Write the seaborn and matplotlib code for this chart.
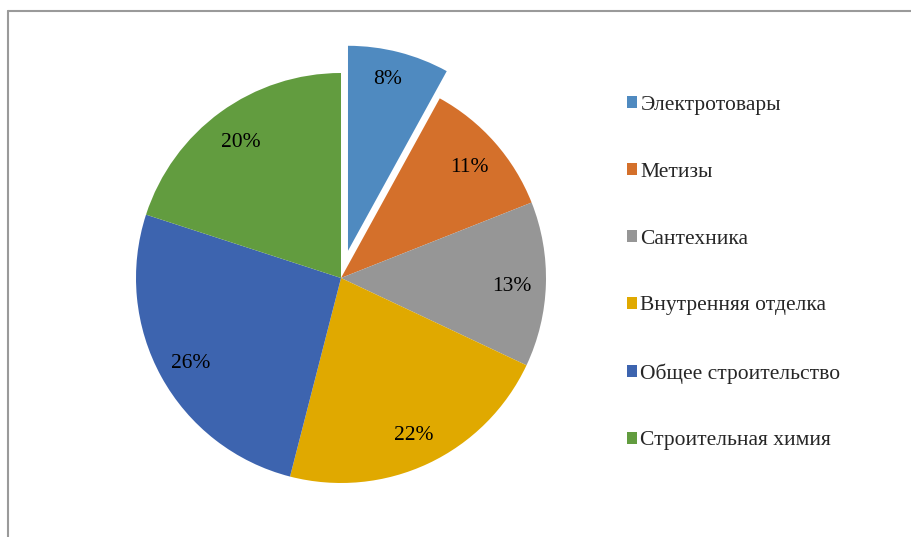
import matplotlib
matplotlib.use("Agg")
import matplotlib.pyplot as plt
import seaborn as sns
from matplotlib.lines import Line2D
from matplotlib.transforms import ScaledTranslation

# данные
categories = ["Электротовары", "Метизы", "Сантехника", "Внутренняя отделка",
              "Общее строительство", "Строительная химия"]
shares = [8, 11, 13, 22, 26, 20]
colors = ["#4F8AC0", "#D4702B", "#969696", "#E0A900", "#3D64AF", "#629C3F"]
explode = [0.137, 0, 0, 0, 0, 0]

sns.set_theme(style="white")
plt.rcParams['font.family'] = ['Liberation Serif', 'DejaVu Serif']

fig = plt.figure(figsize=(9.11, 5.37), dpi=100)
palette = sns.color_palette(colors)

# центр круга ~ (341, 278) px, радиус ~205 px
cx, cy, r = 341, 537 - 278, 205
ax = fig.add_axes([(cx - r) / 911, (cy - r) / 537, 2 * r / 911, 2 * r / 537])

wedges, texts, autotexts = ax.pie(
    shares, colors=palette, explode=explode, startangle=90, counterclock=False,
    autopct=lambda p: f"{p:.0f}%", pctdistance=0.835,
    wedgeprops=dict(linewidth=0), textprops=dict(fontsize=15.5, color="black"))
# подписи чуть ниже, как в Excel; у выдвинутого сектора - выше
for i, t in enumerate(autotexts):
    dx, dy = (-3, 6) if i == 0 else (0, -3)
    t.set_transform(ax.transData + ScaledTranslation(dx / 100, dy / 100, fig.dpi_scale_trans))
ax.set_xlim(-1, 1)
ax.set_ylim(-1, 1)
ax.set_aspect("equal")
ax.axis("off")

fig.legend(wedges, categories, loc="upper left",
           bbox_to_anchor=(627 / 911, 1 - 96 / 537), frameon=False,
           fontsize=15.5, handlelength=0.47, handleheight=0.47, handletextpad=0.15,
           labelspacing=2.22, borderpad=0, borderaxespad=0)

# рамка диаграммы (видны только верх и левый край)
fig.add_artist(Line2D([8 / 911, 1], [1 - 11 / 537, 1 - 11 / 537],
                      transform=fig.transFigure, color="#9a9a9a", linewidth=1.5))
fig.add_artist(Line2D([8 / 911, 8 / 911], [0, 1 - 11 / 537],
                      transform=fig.transFigure, color="#9a9a9a", linewidth=1.5))

fig.savefig("out.png", dpi=100, facecolor="white")
